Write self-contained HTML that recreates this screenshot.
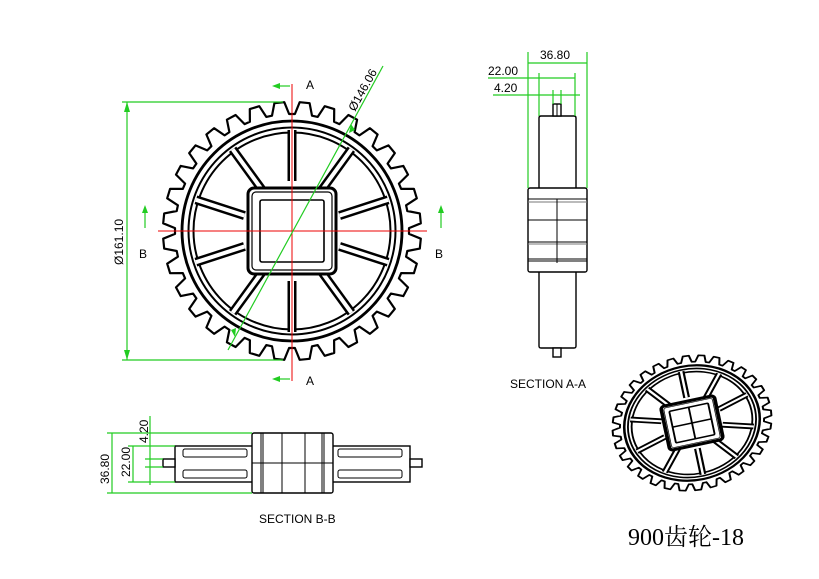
<!DOCTYPE html>
<html><head><meta charset="utf-8"><style>
html,body{margin:0;padding:0;background:#fff;}
svg{display:block;}
text{font-family:"Liberation Sans",sans-serif;fill:#000;}
</style></head><body>
<svg id="s" width="819" height="579" viewBox="0 0 819 579" xmlns="http://www.w3.org/2000/svg">
<g id="gear" transform="translate(292,231)"></g>
<g id="gear2" transform="translate(692,423) rotate(-12) scale(0.62,0.52)"></g>

<!-- centerlines -->
<line x1="292" y1="84" x2="292" y2="381" stroke="#e00" stroke-width="1"/>
<line x1="158" y1="231" x2="427" y2="231" stroke="#e00" stroke-width="1"/>

<g stroke="#2c2" stroke-width="1.2" fill="none">
<line x1="122" y1="102" x2="283" y2="102"/>
<line x1="122" y1="360" x2="283" y2="360"/>
<line x1="127" y1="102" x2="127" y2="360"/>
<line x1="228" y1="350" x2="383" y2="66"/>
<line x1="290" y1="86" x2="278" y2="86"/>
<line x1="290" y1="379" x2="278" y2="379"/>
<line x1="145" y1="228" x2="145" y2="212"/>
<line x1="441" y1="228" x2="441" y2="212"/>
</g>
<g fill="#2c2">
<polygon points="127,102 124,112 130,112"/>
<polygon points="127,360 124,350 130,350"/>
<polygon points="272,86 280,83 280,89"/>
<polygon points="272,379 280,376 280,382"/>
<polygon points="145,205 142,213 148,213"/>
<polygon points="441,205 438,213 444,213"/>
<polygon points="351,124 349,133 355,130"/>
<polygon points="235,337 236,328 231,330"/>
</g>
<text x="0" y="0" font-size="12" transform="translate(123,265) rotate(-90)">Ø161.10</text>
<text x="0" y="0" font-size="12" transform="translate(355,112) rotate(-61)">Ø146.06</text>
<text x="306" y="89" font-size="12">A</text>
<text x="306" y="385" font-size="12">A</text>
<text x="139" y="258" font-size="12">B</text>
<text x="435" y="258" font-size="12">B</text>

<!-- SECTION A-A -->
<g stroke="#000" stroke-width="1.4" fill="#fff">
<path d="M539,188 V118 Q539,116 541,116 H574 Q576,116 576,118 V188"/>
<path d="M539,272 V346 Q539,348 541,348 H574 Q576,348 576,346 V272"/>
<rect x="528" y="188" width="59" height="84" rx="2"/>
<rect x="553" y="104" width="8" height="12"/>
<rect x="553" y="348" width="8" height="9"/>
</g>
<g stroke="#000" stroke-width="1" fill="none">
<line x1="528" y1="199" x2="587" y2="199"/><line x1="528" y1="202" x2="587" y2="202" stroke="#777"/>
<line x1="528" y1="220" x2="587" y2="220"/>
<line x1="528" y1="242" x2="587" y2="242"/><line x1="528" y1="244" x2="587" y2="244" stroke="#777"/>
<line x1="528" y1="259" x2="587" y2="259"/><line x1="528" y1="261" x2="587" y2="261"/>
<line x1="557" y1="199" x2="557" y2="263"/>
<line x1="557" y1="104" x2="557" y2="116"/>
</g>
<g stroke="#2c2" stroke-width="1.2" fill="none">
<line x1="528" y1="52" x2="528" y2="188"/>
<line x1="587" y1="52" x2="587" y2="188"/>
<line x1="528" y1="63" x2="587" y2="63"/>
<line x1="539" y1="73" x2="539" y2="116"/>
<line x1="575" y1="73" x2="575" y2="116"/>
<line x1="488" y1="78" x2="575" y2="78"/>
<line x1="553" y1="90" x2="553" y2="104"/>
<line x1="561" y1="90" x2="561" y2="104"/>
<line x1="493" y1="95" x2="580" y2="95"/>
</g>
<text x="540" y="59" font-size="12">36.80</text>
<text x="488" y="75" font-size="12">22.00</text>
<text x="494" y="92" font-size="12">4.20</text>
<text x="510" y="388" font-size="12">SECTION A-A</text>

<!-- SECTION B-B -->
<g stroke="#000" stroke-width="1.4" fill="#fff">
<rect x="175" y="446" width="78" height="36"/>
<rect x="332" y="446" width="78" height="36"/>
<rect x="163" y="459" width="12" height="8"/>
<rect x="410" y="459" width="12" height="8"/>
<rect x="252" y="433" width="81" height="60" rx="2"/>
</g>
<g stroke="#000" stroke-width="1" fill="none">
<rect x="183" y="449" width="64" height="8" rx="2"/>
<rect x="183" y="470" width="64" height="8" rx="2"/>
<rect x="338" y="449" width="64" height="8" rx="2"/>
<rect x="338" y="470" width="64" height="8" rx="2"/>
<line x1="261" y1="433" x2="261" y2="493"/><line x1="263" y1="433" x2="263" y2="493"/>
<line x1="282" y1="433" x2="282" y2="493"/>
<line x1="305" y1="433" x2="305" y2="493"/>
<line x1="322" y1="433" x2="322" y2="493"/><line x1="324" y1="433" x2="324" y2="493"/>
<line x1="252" y1="463" x2="333" y2="463"/>
</g>
<g stroke="#2c2" stroke-width="1.2" fill="none">
<line x1="107" y1="433" x2="252" y2="433"/>
<line x1="107" y1="493" x2="252" y2="493"/>
<line x1="112" y1="433" x2="112" y2="493"/>
<line x1="128" y1="446" x2="175" y2="446"/>
<line x1="128" y1="482" x2="175" y2="482"/>
<line x1="133" y1="446" x2="133" y2="482"/>
<line x1="145" y1="459" x2="163" y2="459"/>
<line x1="145" y1="467" x2="163" y2="467"/>
<line x1="150" y1="416" x2="150" y2="485"/>
</g>
<text x="0" y="0" font-size="12" transform="translate(109,484) rotate(-90)">36.80</text>
<text x="0" y="0" font-size="12" transform="translate(130,477) rotate(-90)">22.00</text>
<text x="0" y="0" font-size="12" transform="translate(148,443) rotate(-90)">4.20</text>
<text x="259" y="523" font-size="12">SECTION B-B</text>

<text x="628" y="545" font-size="24" style="font-family:'Liberation Serif','Noto Serif CJK SC',serif">900齿轮-18</text>
</svg>
<script>
function build(id, small){
 var g=document.getElementById(id), ns="http://www.w3.org/2000/svg";
 var N=32, P=360/N, pts=[], R1=117, R2=129, d=Math.PI/180;
 for(var i=0;i<N;i++){
  var a=i*P+P/2;
  [[a-4.2,R1],[a-2.2,R2],[a+2.2,R2],[a+4.2,R1]].forEach(function(p){
   pts.push((p[1]*Math.cos(p[0]*d)).toFixed(1)+","+(p[1]*Math.sin(p[0]*d)).toFixed(1));});
 }
 var sw=small?3.2:2.2;
 function el(t,at){var e=document.createElementNS(ns,t);for(var k in at)e.setAttribute(k,at[k]);g.appendChild(e);return e;}
 el("polygon",{points:pts.join(" "),fill:"#fff",stroke:"#000","stroke-width":sw,"stroke-linejoin":"round"});
 el("circle",{r:110,fill:"#fff",stroke:"#000","stroke-width":sw*1.3});
 el("circle",{r:101,fill:"none",stroke:"#000","stroke-width":small?9:7});
 el("circle",{r:101,fill:"none",stroke:"#fff","stroke-width":small?3:3});
 for(var j=0;j<10;j++){
  var a=(90+36*j)*d, x1=50*Math.cos(a), y1=50*Math.sin(a), x2=101*Math.cos(a), y2=101*Math.sin(a);
  el("line",{x1:x1,y1:y1,x2:x2,y2:y2,stroke:"#000","stroke-width":small?11:9});
  el("line",{x1:x1,y1:y1,x2:x2,y2:y2,stroke:"#fff","stroke-width":small?4:4});
 }
 el("rect",{x:-44,y:-43,width:88,height:86,rx:6,fill:"#fff",stroke:"#000","stroke-width":small?6:3});
 el("rect",{x:-40,y:-39,width:80,height:78,rx:4,fill:"none",stroke:"#000","stroke-width":1.2});
 el("rect",{x:-32,y:-31,width:64,height:62,rx:2,fill:"#fff",stroke:"#000","stroke-width":small?3:1.6});
 if(small){
  el("line",{x1:0,y1:-31,x2:0,y2:31,stroke:"#000","stroke-width":3});
  el("line",{x1:-32,y1:0,x2:32,y2:0,stroke:"#000","stroke-width":3});
 }
}
build("gear",false);build("gear2",true);
</script>
</body></html>
